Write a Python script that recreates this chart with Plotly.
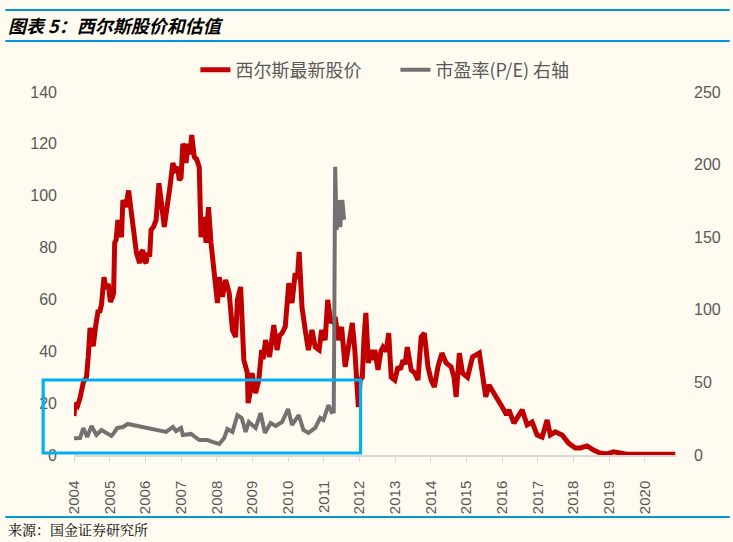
import plotly.graph_objects as go

# ---------------- data ----------------
price_t = [2004.00, 2004.03, 2004.10, 2004.17, 2004.26, 2004.35, 2004.40, 2004.45, 2004.50, 2004.54,
           2004.60, 2004.68, 2004.72, 2004.77, 2004.84, 2004.90, 2004.96, 2005.02, 2005.08, 2005.11,
           2005.14, 2005.18, 2005.23, 2005.28, 2005.33, 2005.37, 2005.45, 2005.53, 2005.57, 2005.61,
           2005.67, 2005.75, 2005.84, 2005.88, 2005.93, 2005.97, 2006.02, 2006.07, 2006.12, 2006.16,
           2006.23, 2006.30, 2006.38, 2006.41, 2006.44, 2006.53, 2006.58, 2006.63, 2006.69, 2006.77,
           2006.84, 2006.91, 2006.95, 2007.00, 2007.05, 2007.09, 2007.14, 2007.20, 2007.25, 2007.30,
           2007.37, 2007.44, 2007.51, 2007.56, 2007.65, 2007.70, 2007.77, 2007.84, 2007.93, 2008.02,
           2008.07, 2008.16, 2008.25, 2008.35, 2008.44, 2008.53, 2008.58, 2008.67, 2008.76, 2008.86,
           2008.88, 2008.95, 2008.99, 2009.09, 2009.18, 2009.26, 2009.30, 2009.37, 2009.48, 2009.60,
           2009.69, 2009.76, 2009.83, 2009.92, 2010.02, 2010.11, 2010.20, 2010.26, 2010.31, 2010.39,
           2010.48, 2010.57, 2010.67, 2010.76, 2010.87, 2010.94, 2011.04, 2011.11, 2011.20, 2011.32,
           2011.41, 2011.50, 2011.60, 2011.69, 2011.80, 2011.87, 2011.97, 2012.02, 2012.08, 2012.13,
           2012.18, 2012.25, 2012.32, 2012.38, 2012.43, 2012.52, 2012.60, 2012.66, 2012.75, 2012.82,
           2012.89, 2012.99, 2013.08, 2013.15, 2013.22, 2013.28, 2013.34, 2013.45, 2013.55, 2013.64,
           2013.73, 2013.82, 2013.92, 2014.01, 2014.10, 2014.20, 2014.31, 2014.43, 2014.57, 2014.65,
           2014.71, 2014.80, 2014.89, 2015.03, 2015.17, 2015.36, 2015.45, 2015.54, 2015.63, 2015.77,
           2015.91, 2016.05, 2016.12, 2016.19, 2016.33, 2016.42, 2016.56, 2016.70, 2016.84, 2016.98,
           2017.12, 2017.26, 2017.35, 2017.49, 2017.68, 2017.86, 2018.05, 2018.19, 2018.38, 2018.56,
           2018.74, 2018.93, 2019.12, 2019.30, 2019.49, 2020.85]
price = [15, 20, 19, 22, 28, 30, 38, 49, 44, 42,
         49, 56, 55, 58, 68.6, 64, 66, 59, 61, 62.5,
         81.8, 83, 90.6, 88, 84, 98.3, 95.6, 102, 97, 91.8,
         84, 77.9, 74, 78, 79, 75, 74, 78, 76.5, 86.8,
         88, 90.6, 104.8, 100, 98.3, 88, 92, 97, 103.5, 112.6,
         110, 111, 106, 107, 120, 118.8, 112.6, 120, 116, 123.4,
         115, 114, 111, 84, 91.8, 81.8, 95.6, 81.8, 68.6, 58.6,
         68.6, 61, 67.5, 62.5, 48.2, 45.5, 59.8, 64.8, 36.6, 31.6,
         20, 25, 31.6, 23.9, 28.9, 40.5, 37, 44.3, 37.8, 50.1,
         40.5, 46, 47, 49.4, 66.3, 58.6, 70.2, 68, 78.3, 57,
         48.2, 40.5, 48.2, 41.6, 40.5, 48.2, 44.3, 59.8, 50.9, 53.2,
         44.3, 49.4, 34, 40.5, 50.9, 40.5, 18.5, 29, 30, 45.5,
         54.8, 35.5, 40.5, 36.6, 40.5, 32.8, 40, 41.6, 40, 47,
         30, 28.9, 34, 33, 36.6, 35, 41.6, 32.8, 31.6, 28.9,
         45.5, 47, 34, 28.9, 26.2, 34, 39.3, 35.5, 34, 30,
         22.4, 39.3, 31.6, 30, 37.8, 39.3, 28.9, 22.4, 27, 23.9,
         21.2, 17.4, 15.5, 17.4, 12.3, 14.7, 17.4, 11.6, 12.7, 7.7,
         6.9, 13.5, 7.7, 8.9, 7.7, 4.6, 2.7, 2.7, 3.5, 1.9,
         0.8, 0.4, 1.2, 0.8, 0.3, 0.3]

pe_t = [2004.00, 2004.17, 2004.26, 2004.37, 2004.49, 2004.63, 2004.77, 2004.91, 2005.05, 2005.14,
        2005.21, 2005.37, 2005.51, 2006.58, 2006.77, 2006.86, 2007.00, 2007.05, 2007.28, 2007.51,
        2007.74, 2007.88, 2008.07, 2008.21, 2008.30, 2008.44, 2008.58, 2008.70, 2008.81, 2008.90,
        2009.09, 2009.23, 2009.35, 2009.51, 2009.65, 2009.83, 2010.00, 2010.11, 2010.30, 2010.43,
        2010.57, 2010.76, 2010.90, 2010.99, 2011.13, 2011.22, 2011.28, 2011.32, 2011.36, 2011.41,
        2011.46, 2011.52, 2011.57]
pe = [11.5, 11.7, 18.6, 12.4, 20, 13.8, 17.2, 15.2, 13.1, 15.9,
      18.6, 19.3, 21.4, 15.9, 19.3, 16.5, 18.6, 13.8, 14.5, 10.3,
      10.3, 9, 7.6, 11.7, 17.9, 15.9, 27.5, 25.5, 15.9, 22.7,
      18.6, 28.9, 15.2, 22, 20, 22.7, 31.7, 20.7, 27.5, 17.2,
      15.2, 18.6, 25.5, 24.1, 34.4, 29.6, 30, 198.5, 155, 175.6,
      157, 175.6, 162]

year_ticks = list(range(2004, 2021))
series_names = ["西尔斯最新股价", "市盈率(P/E) 右轴"]
title_text = "图表 5：西尔斯股价和估值"
source_text = "来源：国金证券研究所"

# ---------------- layout geometry ----------------
W, H = 733, 542
L, R, T, B = 74, 53, 92, 87
PW, PH = W - L - R, H - T - B


def px(xp):
    return (xp - L) / PW


def py(yp):
    return (H - B - yp) / PH


BG = "#FFFBF0"
BLUE = "#0096DB"
TXT = "#595959"
FONT = "Noto Sans CJK SC, Liberation Sans, sans-serif"
NUMFONT = "Liberation Sans, sans-serif"

fig = go.Figure()
fig.add_trace(go.Scatter(x=price_t, y=price, mode="lines", name=series_names[0],
                         line=dict(color="#C00000", width=5), yaxis="y"))
fig.add_trace(go.Scatter(x=pe_t, y=pe, mode="lines", name=series_names[1],
                         line=dict(color="#767171", width=4), yaxis="y2"))

fig.update_layout(
    width=W, height=H,
    margin=dict(l=L, r=R, t=T, b=B),
    paper_bgcolor=BG, plot_bgcolor=BG,
    font=dict(family=FONT, color=TXT, size=15),
    showlegend=True,
    legend=dict(orientation="h", x=px(196), xanchor="left", y=py(70), yanchor="middle",
                font=dict(size=18, color=TXT), bgcolor="rgba(0,0,0,0)", itemwidth=30,
                entrywidth=155, entrywidthmode="pixels", tracegroupgap=0),
    xaxis=dict(range=[2004, 2020.9], tickvals=year_ticks, ticktext=[str(y) for y in year_ticks],
               tickangle=-90, showgrid=False, zeroline=False, showline=True,
               linecolor="#D9D9D9", linewidth=1.5, ticks="outside", ticklen=5,
               tickcolor="#D9D9D9", tickfont=dict(family=NUMFONT, size=15, color=TXT),
               ticklabelstandoff=13),
    yaxis=dict(range=[0, 140], dtick=20, showgrid=False, zeroline=False, showline=False,
               ticks="", tickfont=dict(family=NUMFONT, size=16, color=TXT),
               ticklabelstandoff=16),
    yaxis2=dict(range=[0, 250], dtick=50, overlaying="y", side="right", showgrid=False,
                zeroline=False, showline=False, ticks="",
                tickfont=dict(family=NUMFONT, size=16, color=TXT),
                ticklabelstandoff=16),
)

shapes = [
    dict(type="line", xref="paper", yref="paper", x0=px(5), x1=px(733), y0=py(10), y1=py(10),
         line=dict(color=BLUE, width=2.2)),
    dict(type="line", xref="paper", yref="paper", x0=px(5), x1=px(733), y0=py(41), y1=py(41),
         line=dict(color=BLUE, width=2.2)),
    dict(type="line", xref="paper", yref="paper", x0=px(5), x1=px(733), y0=py(517), y1=py(517),
         line=dict(color=BLUE, width=2.2)),
    dict(type="rect", xref="paper", yref="paper", x0=px(43), x1=px(362), y0=py(453), y1=py(380),
         line=dict(color="#00B0F0", width=3.2), fillcolor="rgba(0,0,0,0)", layer="above"),
]
fig.update_layout(shapes=shapes)

fig.add_annotation(text="<b><i>" + title_text + "</i></b>", xref="paper", yref="paper",
                   x=px(6), y=py(25), xanchor="left", yanchor="middle", showarrow=False,
                   font=dict(size=18, color="#000000", family=FONT))
fig.add_annotation(text=source_text, xref="paper", yref="paper",
                   x=px(6), y=py(529), xanchor="left", yanchor="middle", showarrow=False,
                   font=dict(size=14, color="#000000", family="Noto Serif CJK SC, Noto Sans CJK SC, serif"))

fig.write_html("out.html")
